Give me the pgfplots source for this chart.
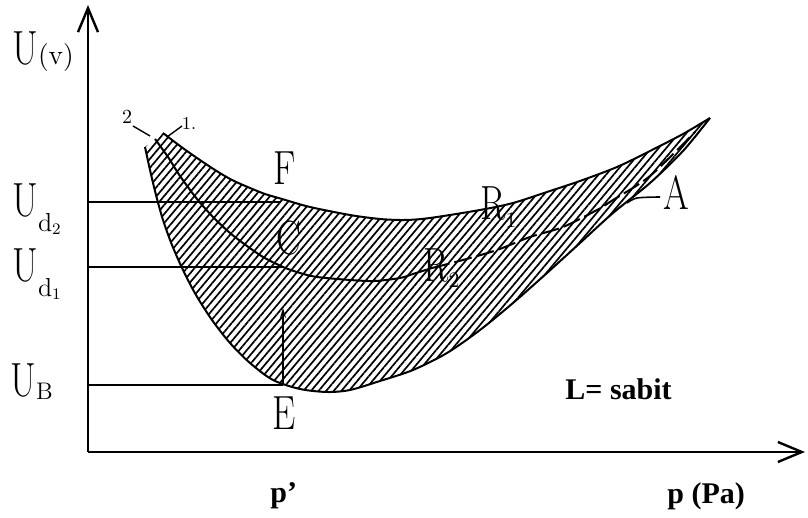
\documentclass[border=0pt]{standalone}
\usepackage{fontspec}
\usepackage{graphicx}
\usepackage{pgfplots}
\pgfplotsset{compat=1.18}
\usepgfplotslibrary{fillbetween}
\usetikzlibrary{patterns.meta,arrows.meta}
\newfontfamily\tnr{Liberation Serif}
% condensed, slightly heavier serif letters for the curve and level labels
\newcommand{\lbl}[1]{\scalebox{0.77}[1]{\fontsize{24}{28}\selectfont\addfontfeatures{FakeBold=1}#1}}
\newcommand{\sm}[1]{{\addfontfeatures{FakeBold=1}#1}}
\newcommand{\bl}[1]{{\tnr\bfseries\fontsize{15}{17}\selectfont #1}}

\begin{document}
\begin{tikzpicture}
\begin{axis}[hide axis, scale only axis, width=404pt, height=259pt,
  xmin=0, xmax=808, ymin=0, ymax=518, y dir=reverse, clip=false,
  every axis plot/.append style={mark=none, black}]
\path (axis cs:0,0) rectangle (axis cs:808,518);

% axes
\addplot[line width=1.2pt, -{Straight Barb[length=12pt,width=10pt]}]
  coordinates {(88,452) (88,5)};
\addplot[line width=1.2pt, -{Straight Barb[length=12pt,width=10pt]}]
  coordinates {(88,452) (805,452)};

% level lines
\addplot[line width=1pt] coordinates {(88,202) (281,202)};
\addplot[line width=1pt] coordinates {(88,267) (283,267)};
\addplot[line width=1pt] coordinates {(88,385) (283,385)};

% boundaries of the breakdown region
\addplot[name path=upper, line width=1pt, smooth] coordinates {
 (163,133) (180,146) (197,158) (215,170) (232,180) (250,188) (265,194)
 (282,199) (310,207) (350,215) (380,219) (405,220) (430,218) (480,210)
 (513,203) (547,192) (580,181) (617,167) (650,151) (683,134) (710,118)};
\addplot[name path=lower, line width=1pt, smooth] coordinates {
 (145,147) (150,170) (156,195) (163,220) (172,245) (183,270) (196,295)
 (212,320) (230,343) (250,363) (273,380) (300,389) (327,392) (350,390)
 (380,381) (413,370) (447,353) (480,330) (513,303) (547,273) (580,243)
 (613,213) (650,183) (683,151) (710,118)};
\addplot[draw=none, pattern={Lines[angle=50,distance=2.9pt,line width=0.85pt]}]
  fill between[of=upper and lower];

% inner curve
\addplot[line width=1pt, smooth] coordinates {
 (155,139) (168,157) (180,176) (197,199) (213,217) (230,233) (247,246)
 (263,257) (283,267) (300,273) (317,277) (350,280) (375,281) (400,278)
 (413,274) (432,268)};
\addplot[line width=1pt, smooth, dash pattern=on 9pt off 2.5pt] coordinates {
 (432,268) (463,260) (497,250) (530,237) (563,227) (597,210) (613,200)
 (650,176) (695,132)};

% rising voltage at p'
\addplot[line width=0.8pt, -{Stealth[length=5pt,width=3pt]}]
  coordinates {(283,385) (283,308)};

% leaders
\addplot[line width=0.7pt] coordinates {(133,126) (150,136)};
\addplot[line width=0.7pt] coordinates {(182,126) (167,137)};
\addplot[line width=0.8pt, smooth] coordinates {(627,203) (637,198) (660,197)};

% labels
\node[anchor=base west, inner sep=0] at (axis cs:12,65)
  {\lbl{U}{\fontsize{14}{16}\selectfont\sm{(v)}}};
\node[anchor=base west, inner sep=0] at (axis cs:12,217)
  {\lbl{U}\raisebox{-7.5pt}{\fontsize{13}{14}\selectfont\sm{d}\raisebox{-1.5pt}{\fontsize{8}{9}\selectfont\sm{2}}}};
\node[anchor=base west, inner sep=0] at (axis cs:12,282)
  {\lbl{U}\raisebox{-7.5pt}{\fontsize{13}{14}\selectfont\sm{d}\raisebox{-1.5pt}{\fontsize{8}{9}\selectfont\sm{1}}}};
\node[anchor=base west, inner sep=0] at (axis cs:10,397)
  {\lbl{U}\raisebox{-1.5pt}{\fontsize{12}{14}\selectfont\sm{B}}};

\node[inner sep=0] at (axis cs:127,117) {\fontsize{10}{12}\selectfont\sm{2}};
\node[inner sep=0] at (axis cs:189,124) {\fontsize{9}{11}\selectfont\sm{1.}};

\node[anchor=base west, inner sep=0] at (axis cs:273,185) {\lbl{F}};
\node[anchor=base west, inner sep=0] at (axis cs:276,255) {\lbl{C}};
\node[anchor=base west, inner sep=0] at (axis cs:272,430) {\lbl{E}};
\node[anchor=base west, inner sep=0] at (axis cs:480,220)
  {\lbl{R}\raisebox{-4pt}{\fontsize{11}{12}\selectfont\sm{1}}};
\node[anchor=base west, inner sep=0] at (axis cs:423,282)
  {\lbl{R}\raisebox{-3pt}{\fontsize{11}{12}\selectfont\sm{2}}};
\node[anchor=base west, inner sep=0] at (axis cs:663,210) {\lbl{A}};

\node[anchor=base west, inner sep=0] at (axis cs:565,400) {\bl{L= sabit}};
\node[anchor=base west, inner sep=0] at (axis cs:270,503) {\bl{p’}};
\node[anchor=base west, inner sep=0] at (axis cs:667,504) {\bl{p (Pa)}};
\end{axis}
\end{tikzpicture}
\end{document}
